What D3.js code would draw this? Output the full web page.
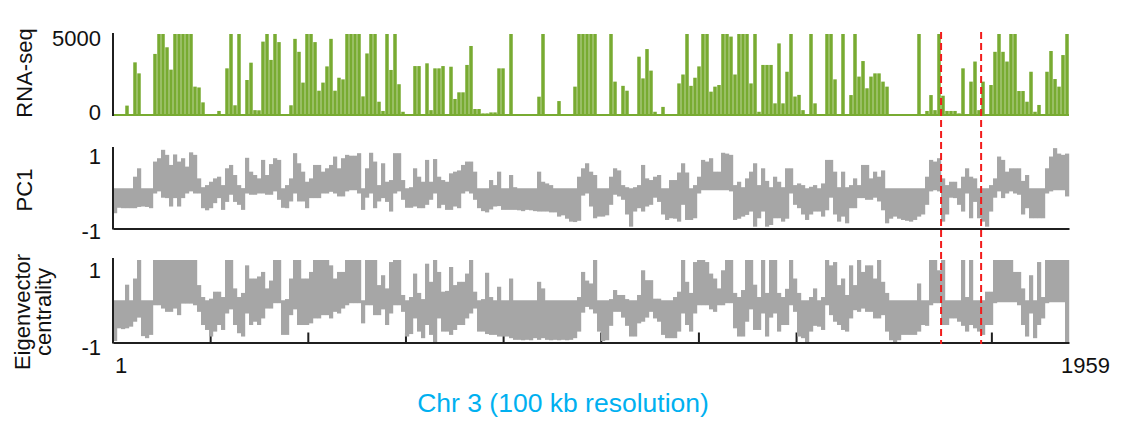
<!DOCTYPE html>
<html><head><meta charset="utf-8">
<script src="https://cdn.jsdelivr.net/npm/d3@7"></script>
<style>
html,body{margin:0;padding:0;background:#fff;}
svg{display:block;font-family:"Liberation Sans",Arial,Helvetica,sans-serif;}
</style></head><body>
<svg id="c" width="1123" height="425"></svg>
<script>
// ---- data (binned envelope, 239 bins across chr3) ----
const chromStart = 1, chromEnd = 1959;
const rnaSeq = [
0,0,0,580,0,3250,2570,0,0,0,
3770,5000,5000,4180,2800,5000,5000,5000,5000,5000,
1750,1700,780,0,0,0,250,0,2880,5000,
600,5000,0,2160,3230,300,290,4530,5000,3400,
5000,4500,0,0,600,4700,3900,2000,5000,5000,
4500,1500,2000,3000,4700,1500,2300,2200,5000,5000,
5000,5000,1150,3800,5000,5000,820,250,5000,2780,
5000,1900,200,0,0,3020,3020,0,3190,300,
2880,2880,3020,0,2980,990,1400,1400,3090,4260,
370,370,100,100,160,160,2880,2880,0,5000,
0,0,0,0,0,0,1130,5000,0,0,
0,860,0,0,0,1750,5000,5000,5000,5000,
5000,0,0,0,5000,2060,0,1800,1500,0,
0,3600,2260,4070,2740,200,0,500,0,0,
0,1950,2500,5000,1800,2300,3000,5000,5000,1440,
1750,1850,5000,5000,4840,2500,5000,5000,5000,1950,
5000,200,3090,3090,3090,720,4420,720,2670,5000,
1140,1240,300,0,5000,720,0,0,5000,5000,
2200,0,5000,0,1230,5000,2370,3330,1650,2370,
2570,2570,2060,1750,0,0,0,0,0,0,
0,5000,0,250,1230,300,5000,1190,250,250,
250,100,2880,0,2060,3300,300,2060,0,1850,
3900,5000,3900,3300,5000,5000,1480,1480,820,2670,
200,620,0,2670,3950,2220,1750,3700,5000];

const pc1High = [
0,0,0,0,0,0.3,0.5,0,0,0,
0.66,0.74,0.94,0.82,0.58,0.83,0.66,0.74,0.54,0.88,
0.82,0.26,0.05,0.1,0.18,0.26,0.3,0.1,0.5,0.58,
0.34,0.1,0.02,0.75,0.42,0.34,0.26,0.7,0.34,0.6,
0.74,0.7,0,0.1,0.26,0.86,0.62,0.42,0.18,0.26,
0.58,0.58,0.42,0.5,0.58,0.78,0.5,0.74,0.82,0.8,
0.8,0.86,0,0.5,0.87,0.66,0.1,0.62,0.18,0.22,
0.86,0.86,0.22,0,0.05,0.5,0.3,0.18,0.7,0.18,
0.72,0.3,0.22,0.18,0.38,0.42,0.45,0.58,0.66,0.66,
0.42,0,0,0,0.22,0.1,0.42,0,0,0.34,
0.05,0,0,0,0,0,0.42,0.18,0.14,0.1,
0,0,0,0,0,0,0.3,0.5,0.62,0.42,
0.34,0,0,0,0.3,0.5,0.45,0.1,0.05,0,
0.05,0.1,0.58,0.26,0.22,0.3,0.34,0,0,0.22,
0.22,0.4,0.62,0.4,0,0.1,0.3,0.7,0.66,0.74,
0.42,0.42,0.87,0.85,0.82,0.1,0.18,0.05,0.26,0.42,
0.62,0.1,0.5,0.2,0.05,0.3,0.18,0.05,0.5,0.5,
0.1,0.14,0.1,0,0.06,0.1,0,0.14,0.7,0.7,
0.42,0.05,0.42,0.05,0.1,0.26,0.1,0.58,0.58,0.26,
0.42,0.3,0.45,0,0,0,0,0,0,0,
0,0,0,0.3,0.7,0.66,0.74,0.26,0.1,0.18,
0.18,0,0.3,0.5,0.3,0.26,0,0,0,0.1,
0.26,0.78,0.7,0.42,0.5,0.5,0.5,0.2,0.34,0,
0,0,0,0.5,0.78,0.98,0.85,0.82,0.85];

const pc1Low = [
-0.57,-0.44,-0.45,-0.45,-0.45,-0.45,-0.42,-0.41,-0.42,-0.45,
-0.1,-0.05,-0.2,-0.21,-0.41,-0.21,-0.41,-0.21,-0.1,-0.05,
-0.1,-0.1,-0.45,-0.5,-0.45,-0.33,-0.21,-0.49,-0.3,-0.13,
-0.3,-0.37,-0.49,-0.1,-0.13,-0.13,-0.1,-0.1,-0.13,-0.13,
-0.05,-0.25,-0.44,-0.45,-0.29,-0.1,-0.29,-0.29,-0.45,-0.21,
-0.21,-0.21,-0.1,-0.1,-0.06,-0.1,-0.17,-0.17,-0.05,0,
0,-0.1,-0.49,-0.2,-0.1,-0.45,-0.29,-0.21,-0.3,-0.53,
-0.1,-0.05,-0.25,-0.44,-0.44,-0.41,-0.45,-0.45,-0.37,-0.25,
-0.1,-0.45,-0.37,-0.49,-0.49,-0.41,-0.45,-0.1,-0.05,-0.1,
-0.25,-0.45,-0.52,-0.55,-0.48,-0.41,-0.4,-0.49,-0.49,-0.49,
-0.49,-0.5,-0.52,-0.49,-0.5,-0.52,-0.53,-0.53,-0.53,-0.55,
-0.55,-0.65,-0.62,-0.7,-0.77,-0.78,-0.75,-0.15,-0.1,-0.41,
-0.69,-0.65,-0.65,-0.62,-0.37,-0.13,-0.17,-0.25,-0.6,-0.89,
-0.53,-0.45,-0.53,-0.41,-0.37,-0.2,-0.3,-0.6,-0.73,-0.69,
-0.7,-0.77,-0.37,-0.73,-0.73,-0.69,-0.1,0,0,0,
0,0,0,0,-0.05,-0.73,-0.7,-0.65,-0.61,-0.53,
-0.89,-0.69,-0.53,-0.89,-0.85,-0.69,-0.69,-0.77,-0.7,-0.1,
-0.37,-0.45,-0.6,-0.73,-0.6,-0.53,-0.53,-0.65,-0.5,-0.2,
-0.6,-0.77,-0.65,-0.81,-0.45,-0.45,-0.21,-0.21,-0.25,-0.25,
-0.2,-0.29,-0.5,-0.81,-0.7,-0.65,-0.7,-0.73,-0.75,-0.77,
-0.73,-0.65,-0.6,-0.37,-0.05,0,-0.05,-0.77,-0.6,-0.2,
-0.21,-0.37,-0.53,-0.1,-0.69,-0.3,-0.69,-0.77,-0.89,-0.53,
-0.2,-0.05,-0.21,-0.1,-0.05,-0.1,-0.13,-0.6,-0.45,-0.69,
-0.69,-0.69,-0.69,-0.1,-0.05,0,0,0,-0.17];

const ecHigh = [
0,0,0,0.4,0,0.55,1,0,0,0,
1,1,1,1,1,1,1,1,1,1,
1,0.39,0.1,0,0.06,0.23,0.23,0.1,1,1,
0.31,0.1,0.2,0.87,0.55,0.55,0.6,0.71,0.31,0.5,
1,1,0,0.05,0.55,1,1,0.55,0.55,0.71,
1,1,1,1,0.87,0.55,0.71,0.71,1,1,
1,1,0,1,1,1,0.39,0.63,0.31,0.95,
1,1,0.15,0,0.1,0.67,0.2,0.05,0.91,0.47,
1,0.71,0.23,0.25,0.83,0.39,0.47,0.47,0.67,1,
0.23,0,0.05,0.69,0.1,0,0.35,0,0,0.55,
0,0,0,0,0,0,0.47,0.31,0,0,
0,0,0,0,0,0,0.1,0.71,0.5,0.43,
1,0,0,0,0.05,0.27,0.15,0.15,0.05,0,
0,0.15,0.75,0.51,0.51,0.06,0.06,0,0,0,
0.1,0.23,1,0.47,0.2,0.95,1,1,0.95,0.67,
0.55,0.31,0.75,1,1,0.2,0.1,0.27,1,1,
0.4,0.1,1,0.2,1,1,0.2,0.1,0.3,1,
0.55,0.2,0,0,0.1,0.31,0,0.1,1,0.87,
0.95,0.39,0.55,0.15,0.87,0.39,1,0.71,0.87,0.87,
0.55,1,0.47,0.2,0,0,0,0,0,0,
0,0.43,0,0,1,1,0.75,1,0,0,
0,0,1,0.1,1,0,0,0,0.23,0.23,
1,1,1,1,1,0.71,0.71,0.31,0,0.63,
0,0.95,0.1,1,1,1,1,1,1];

const ecLow = [
-0.97,-0.66,-0.68,-0.66,-0.62,-0.5,-0.4,-0.85,-0.9,-0.82,
-0.1,-0.1,-0.18,-0.26,-0.26,-0.18,-0.34,-0.06,-0.06,-0.06,
-0.1,-0.26,-0.58,-0.7,-0.86,-0.74,-0.58,-0.7,-0.3,-0.2,
-0.58,-0.78,-0.86,-0.3,-0.58,-0.5,-0.58,-0.42,-0.18,-0.18,
-0.05,-0.05,-0.82,-0.82,-0.34,-0.2,-0.58,-0.58,-0.58,-0.54,
-0.42,-0.42,-0.34,-0.34,-0.42,-0.26,-0.3,-0.18,-0.1,-0.05,
-0.05,-0.05,-0.54,-0.1,-0.1,-0.34,-0.34,-0.2,-0.58,-0.3,
-0.1,-0.1,-0.26,-0.86,-0.8,-0.42,-0.74,-0.9,-0.58,-0.82,
-1,-0.42,-0.74,-0.74,-0.82,-0.7,-0.58,-0.58,-0.42,-0.3,
-0.18,-0.74,-0.74,-0.8,-0.82,-0.82,-0.86,-0.86,-0.86,-0.9,
-0.94,-0.94,-0.95,-0.94,-0.95,-0.9,-0.94,-0.9,-0.94,-0.95,
-0.94,-0.95,-0.94,-0.95,-0.94,-0.9,-0.74,-0.28,-0.14,-0.2,
-0.3,-0.74,-0.97,-0.95,-0.6,-0.26,-0.26,-0.4,-0.6,-0.86,
-0.86,-0.54,-0.5,-0.4,-0.26,-0.42,-0.5,-0.82,-0.9,-0.9,
-0.9,-0.74,-0.3,-0.58,-0.74,-0.3,-0.1,-0.1,-0.1,-0.2,
-0.26,-0.1,-0.1,-0.05,-0.05,-0.66,-0.86,-0.86,-0.5,-0.2,
-0.7,-0.7,-0.3,-0.86,-0.4,-0.3,-0.74,-0.58,-0.58,-0.1,
-0.26,-0.86,-0.9,-1,-0.74,-0.6,-0.62,-0.7,-0.1,-0.34,
-0.5,-0.58,-0.7,-0.74,-0.42,-0.22,-0.26,-0.18,-0.26,-0.26,
-0.42,-0.42,-0.34,-0.74,-0.95,-1,-0.95,-0.82,-0.82,-0.82,
-0.82,-0.74,-0.58,-0.6,-0.1,-0.05,-0.05,-0.58,-0.58,-0.42,
-0.42,-0.5,-0.6,-0.74,-0.58,-0.66,-0.74,-0.82,-0.58,-0.58,
-0.05,0,0,0,0,0,-0.1,-0.58,-0.86,-0.3,
-0.9,-0.58,-0.42,-0.05,0,0,0,0,-1];

const rnaTicks = [0, 5000];
const scoreTicks = [-1, 1];
const xTicks = [200, 400, 600, 800, 1000, 1200, 1400, 1600, 1800];
const xTickLabels = [1, 1959];
const markers = [1697, 1779];
const panelTitles = [["RNA-seq"], ["PC1"], ["Eigenvector", "centrality"]];
const xTitle = "Chr 3 (100 kb resolution)";

// ---- drawing ----
const svg = d3.select("#c");
const AX = "#1f1f1f", GREEN = "#78ab32", GRAY = "#a6a6a6", RED = "#f21c1c", BLUE = "#00b0f0";
const plain = d => String(d);
const x = d3.scaleLinear().domain([chromStart, chromEnd]).range([113, 1069]);
const binSize = (chromEnd - chromStart) / rnaSeq.length;
const binStart = i => chromStart + i * binSize;

const yR = d3.scaleLinear().domain([0, 5000]).range([115, 34]);
const yP = d3.scaleLinear().domain([-1, 1]).range([231.3, 147.3]);
const yE = d3.scaleLinear().domain([-1, 1]).range([342.3, 260]);

// bottom ticks (under data)
svg.append("g").attr("transform", "translate(0,342.5)")
  .call(d3.axisTop(x).tickValues(xTicks).tickSize(10).tickSizeOuter(0).tickFormat(""))
  .call(g => g.select(".domain").remove())
  .call(g => g.selectAll(".tick line").attr("stroke", AX).attr("stroke-width", 2));

// RNA-seq
const gR = svg.append("g");
gR.selectAll("rect").data(rnaSeq).join("rect")
  .attr("x", (d, i) => x(binStart(i)) + 0.25)
  .attr("width", (d, i) => x(binStart(i + 1)) - x(binStart(i)) - 0.5)
  .attr("y", d => yR(d))
  .attr("height", d => yR(0) - yR(d))
  .attr("fill", GREEN);
gR.append("line").attr("x1", x(chromStart)).attr("x2", x(chromEnd))
  .attr("y1", yR(0)).attr("y2", yR(0)).attr("stroke", GREEN).attr("stroke-width", 2);

function band(hi, lo, y) {
  const g = svg.append("g");
  g.selectAll("rect").data(hi.map((h, i) => ({ i, h, l: lo[i] }))).join("rect")
    .attr("x", d => x(binStart(d.i)))
    .attr("width", d => x(binStart(d.i + 1)) - x(binStart(d.i)) + 0.2)
    .attr("y", d => y(Math.max(d.h, 0)))
    .attr("height", d => Math.max(1, y(Math.min(d.l, 0)) - y(Math.max(d.h, 0))))
    .attr("fill", GRAY);
  g.append("line").attr("x1", x(chromStart)).attr("x2", x(chromEnd))
    .attr("y1", y(0)).attr("y2", y(0)).attr("stroke", GRAY).attr("stroke-width", 2);
}
band(pc1High, pc1Low, yP);
band(ecHigh, ecLow, yE);

// spines
const spines = [[33, 116], [147, 229.5], [258, 343.5]];
svg.selectAll(".spine").data(spines).join("line")
  .attr("x1", 113).attr("x2", 113).attr("y1", d => d[0]).attr("y2", d => d[1])
  .attr("stroke", AX).attr("stroke-width", 2);
[228.5, 342.5].forEach(yy => {
  svg.append("g").attr("transform", `translate(0,${yy})`)
    .call(d3.axisBottom(x).tickValues([]).tickSizeOuter(0))
    .call(g => g.select(".domain").attr("stroke", AX).attr("stroke-width", 2));
});

// y tick labels
function yLabels(scale, ticks, nudge) {
  svg.append("g").attr("transform", "translate(113,0)")
    .call(d3.axisLeft(scale).tickValues(ticks).tickSize(0).tickPadding(12).tickFormat(plain))
    .call(g => g.select(".domain").remove())
    .call(g => g.selectAll("text").attr("font-size", 22).attr("fill", "#111")
      .attr("font-family", "Liberation Sans, Arial, sans-serif")
      .attr("y", (d, i) => nudge[i]));
}
yLabels(yR, rnaTicks, [-3, 4]);
yLabels(yP, scoreTicks, [0, 9]);
yLabels(yE, scoreTicks, [5, 10.5]);

// x tick labels
svg.append("g").attr("transform", "translate(0,342.5)")
  .call(d3.axisBottom(x).tickValues(xTickLabels).tickSize(0).tickPadding(15).tickFormat(plain))
  .call(g => g.select(".domain").remove())
  .call(g => g.selectAll("text").attr("font-size", 22).attr("fill", "#111")
    .attr("font-family", "Liberation Sans, Arial, sans-serif")
    .attr("x", (d, i) => [7.5, 16][i]));

// panel titles (rotated)
const titlePos = [{ cx: 31.5, cy: 73 }, { cx: 31.5, cy: 190 }, { cx: 29.5, cy: 312 }];
panelTitles.forEach((lines, p) => {
  lines.forEach((t, j) => {
    const cx = titlePos[p].cx + j * 21.5, cy = titlePos[p].cy;
    svg.append("text").attr("transform", `translate(${cx},${cy}) rotate(-90)`)
      .attr("text-anchor", "middle").attr("font-size", 22).attr("fill", "#111").text(t);
  });
});

// x title
svg.append("text").attr("x", 563).attr("y", 411.5).attr("text-anchor", "middle")
  .attr("font-size", 26.5).attr("fill", BLUE).text(xTitle);

// red dashed markers
svg.selectAll(".marker").data(markers).join("line")
  .attr("x1", d => x(d)).attr("x2", d => x(d)).attr("y1", 32).attr("y2", 344)
  .attr("stroke", RED).attr("stroke-width", 2).attr("stroke-dasharray", "7 4");
</script>
</body></html>
